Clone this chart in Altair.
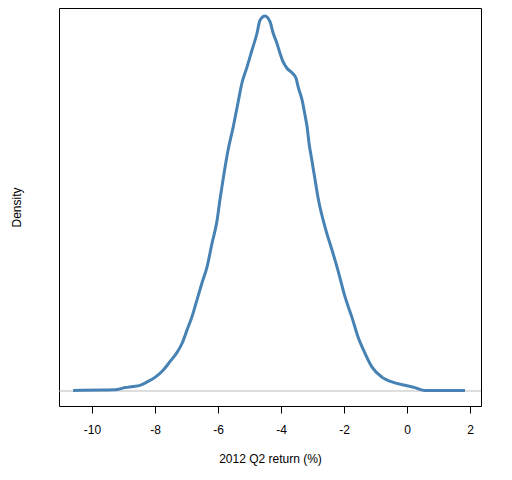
import altair as alt
import pandas as pd

x_vals = [-10.60, -9.60, -9.27, -8.95, -8.70, -8.48, -8.25, -8.00, -7.75, -7.52,
          -7.30, -7.14, -6.98, -6.83, -6.67, -6.51, -6.35, -6.19, -6.03, -5.94,
          -5.84, -5.68, -5.52, -5.37, -5.24, -5.08, -4.92, -4.76, -4.67, -4.51,
          -4.35, -4.25, -4.13, -4.03, -3.94, -3.81, -3.65, -3.52, -3.46, -3.33,
          -3.24, -3.17, -3.11, -3.02, -2.92, -2.83, -2.60, -2.38, -2.19, -1.97,
          -1.75, -1.56, -1.33, -1.11, -0.79, -0.48, -0.06, 0.25, 0.57, 1.84]
density_vals = [0.0005, 0.0008, 0.001, 0.003, 0.004, 0.005, 0.008, 0.012, 0.018, 0.026,
                0.034, 0.042, 0.054, 0.065, 0.080, 0.095, 0.109, 0.130, 0.150, 0.168,
                0.186, 0.212, 0.232, 0.253, 0.271, 0.285, 0.300, 0.315, 0.326, 0.330,
                0.325, 0.315, 0.306, 0.297, 0.290, 0.284, 0.280, 0.275, 0.268, 0.256,
                0.243, 0.232, 0.218, 0.203, 0.186, 0.171, 0.144, 0.124, 0.106, 0.083,
                0.065, 0.048, 0.033, 0.021, 0.012, 0.008, 0.005, 0.003, 0.0005, 0.0005]
x_ticks = [-10, -8, -6, -4, -2, 0, 2]

df = pd.DataFrame({"x": x_vals, "density": density_vals})

xscale = alt.Scale(domain=[-11.048, 2.349], nice=False, zero=False)
yscale = alt.Scale(domain=[-0.0132, 0.337], nice=False, zero=False)

xaxis = alt.Axis(values=x_ticks, title="2012 Q2 return (%)", domain=False, grid=False,
                 tickColor="black", tickSize=7, tickWidth=1, labelFontSize=12,
                 labelFont="Liberation Sans", labelColor="black", labelPadding=11,
                 labelExpr="datum.value + ''",
                 titleFont="Liberation Sans", titleFontSize=12, titleFontWeight="normal",
                 titleColor="black", titlePadding=18, labelFlush=False)
yaxis = alt.Axis(title="Density", labels=False, ticks=False, domain=False, grid=False,
                 titleFont="Liberation Sans", titleFontSize=12, titleFontWeight="normal",
                 titleColor="black", titlePadding=36)

base_rule = alt.Chart(pd.DataFrame({"y": [0.0]})).mark_rule(color="#BEBEBE", strokeWidth=1).encode(
    y=alt.Y("y:Q", scale=yscale, axis=yaxis)
)

line = alt.Chart(df).mark_line(color="#4682B4", strokeWidth=3, interpolate="monotone").encode(
    x=alt.X("x:Q", scale=xscale, axis=xaxis),
    y=alt.Y("density:Q", scale=yscale, axis=yaxis),
)

chart = alt.layer(base_rule, line).properties(
    width=422, height=398,
    autosize=alt.AutoSizeParams(type="none"),
    padding={"left": 51, "top": 0, "right": 10, "bottom": 70},
    background="white",
).configure_view(stroke="black", strokeWidth=1)

chart.save("out.html", embed_options={"renderer": "svg", "actions": False})
